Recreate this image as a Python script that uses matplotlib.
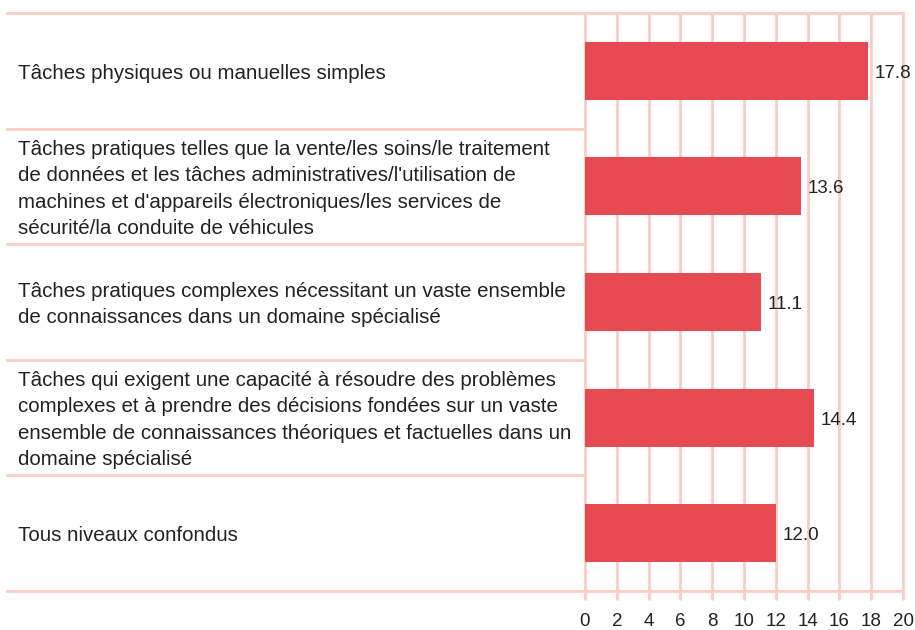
import matplotlib.pyplot as plt

# data
categories = [
    "Tâches physiques ou manuelles simples",
    "Tâches pratiques telles que la vente/les soins/le traitement\n"
    "de données et les tâches administratives/l'utilisation de\n"
    "machines et d'appareils électroniques/les services de\n"
    "sécurité/la conduite de véhicules",
    "Tâches pratiques complexes nécessitant un vaste ensemble\n"
    "de connaissances dans un domaine spécialisé",
    "Tâches qui exigent une capacité à résoudre des problèmes\n"
    "complexes et à prendre des décisions fondées sur un vaste\n"
    "ensemble de connaissances théoriques et factuelles dans un\n"
    "domaine spécialisé",
    "Tous niveaux confondus",
]
values = [17.8, 13.6, 11.1, 14.4, 12.0]
xticks = list(range(0, 21, 2))

BAR = "#e84a53"
GRID = "#fbccc4"
W, H = 915, 630

plt.rcParams['font.family'] = ['Liberation Sans', 'DejaVu Sans']

fig = plt.figure(figsize=(W / 100, H / 100), dpi=100)
left, right, top, bottom = 585, 903, 13, 591
ax = fig.add_axes([left / W, 1 - bottom / H, (right - left) / W, (bottom - top) / H])

ypos = list(range(len(values)))
ax.barh(ypos, values, height=0.5, color=BAR, zorder=3)
ax.set_xlim(0, 20)
ax.set_ylim(len(values) - 0.5, -0.5)

for s in ax.spines.values():
    s.set_visible(False)
ax.set_yticks([])
ax.set_xticks(xticks)
ax.set_xticklabels([str(t) for t in xticks], fontsize=13.5, color="#222222")
ax.tick_params(axis="x", length=0, pad=16)

# vertical grid lines, running a bit below the bottom rule
row_px = (bottom - top) / len(values)
ax.vlines(xticks, -0.5, len(values) - 0.5 + 9 / row_px, color=GRID, lw=2,
          zorder=1, clip_on=False)

# horizontal rules (axes-x coordinates, data-y)
tr = ax.get_yaxis_transform()
x0 = (7 - left) / (right - left)
for i in range(len(values) + 1):
    y = i - 0.5
    x1 = 1 if i in (0, len(values)) else 0
    ax.plot([x0, x1], [y, y], transform=tr, color=GRID, lw=2, clip_on=False, zorder=1)

# category labels on the left (nudged down a touch like the original)
dy = 2.5 / row_px
for y, lab in zip(ypos, categories):
    ax.text((18 - left) / (right - left), y + dy, lab, transform=tr, ha="left",
            va="center", fontsize=14.8, color="#222222", linespacing=1.49)

# value labels
for y, v in zip(ypos, values):
    ax.text(v + 0.4, y + dy, f"{v:.1f}", ha="left", va="center", fontsize=13.5,
            color="#222222", zorder=4)

fig.savefig("out.png", dpi=100)
